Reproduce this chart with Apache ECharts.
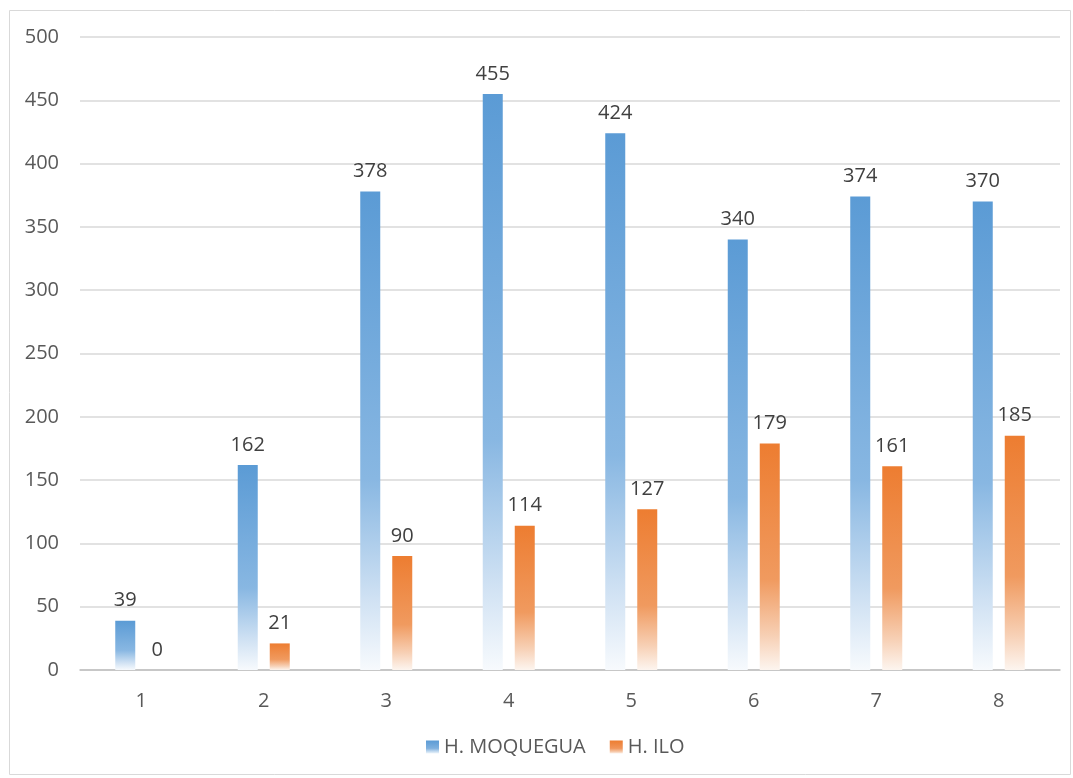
<!DOCTYPE html>
<html><head><meta charset="utf-8">
<script src="https://cdn.jsdelivr.net/npm/echarts@6/dist/echarts.min.js"></script>
<style>html,body{margin:0;padding:0;background:#fff}#c{width:1073px;height:778px}</style>
</head><body><div id="c"></div>
<script>
const categories = ['1','2','3','4','5','6','7','8'];
const moquegua = [39,162,378,455,424,340,374,370];
const ilo = [0,21,90,114,127,179,161,185];
const seriesNames = ['H. MOQUEGUA','H. ILO'];

function grad(c0,c1,c2,c3){
  return new echarts.graphic.LinearGradient(0,0,0,1,[
    {offset:0,color:c0},{offset:0.6,color:c1},{offset:0.85,color:c2},{offset:1,color:c3}]);
}
const blue = grad('#5b9bd5','#88b7e2','#cfe1f3','#f7fafd');
const orange = grad('#ed7d31','#f09a5f','#f7d0b5','#fdf5ef');
const font = '"Open Sans", "Liberation Sans", sans-serif';
const chart = echarts.init(document.getElementById('c'));
chart.setOption({
  animation:false,
  textStyle:{fontFamily:font},
  graphic:[{type:'rect',shape:{x:9.5,y:10.5,width:1061,height:764},style:{fill:'none',stroke:'#d9d9d9',lineWidth:1}}],
  grid:{left:80,right:13,top:37,bottom:108},
  legend:{bottom:16,left:421,itemWidth:13,itemHeight:13,itemGap:24,icon:'rect',
    textStyle:{fontSize:20,color:'#595959',fontFamily:font},data:[
      {name:seriesNames[0],itemStyle:{color:grad('#5b9bd5','#7fb0de','#c5dcf0','#eef5fb')}},
      {name:seriesNames[1],itemStyle:{color:grad('#ed7d31','#f0955a','#f6c8a8','#fcefe6')}}]},
  xAxis:{type:'category',data:categories,axisTick:{show:false},
    axisLine:{lineStyle:{color:'#bfbfbf',width:1.5}},
    axisLabel:{fontSize:20,color:'#595959',margin:21,fontFamily:font}},
  yAxis:{type:'value',min:0,max:500,interval:50,
    axisLabel:{fontSize:20,color:'#595959',margin:21,fontFamily:font},
    splitLine:{lineStyle:{color:'#d9d9d9',width:1.5}},axisLine:{show:false},axisTick:{show:false}},
  series:[
    {name:seriesNames[0],type:'bar',data:moquegua,barWidth:20,barGap:'60%',itemStyle:{color:blue},
      label:{show:true,position:'top',distance:10,fontSize:20,color:'#404040',fontFamily:font}},
    {name:seriesNames[1],type:'bar',data:ilo,barWidth:20,itemStyle:{color:orange},
      label:{show:true,position:'top',distance:10,fontSize:20,color:'#404040',fontFamily:font}}
  ]
});
</script></body></html>
